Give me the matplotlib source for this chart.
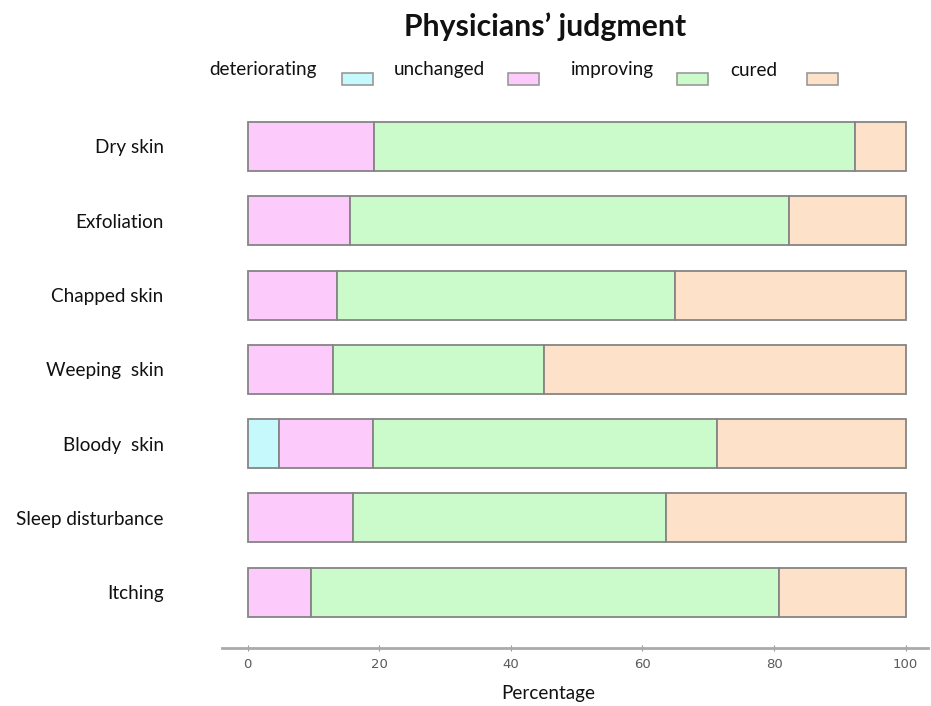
import matplotlib
matplotlib.use("Agg")
import matplotlib.pyplot as plt
from matplotlib.patches import Rectangle

categories = ["Dry skin", "Exfoliation", "Chapped skin", "Weeping  skin",
              "Bloody  skin", "Sleep disturbance", "Itching"]
series_names = ["deteriorating", "unchanged", "improving", "cured"]
deteriorating = [0, 0, 0, 0, 4.7, 0, 0]
unchanged = [19.2, 15.6, 13.6, 12.9, 14.4, 16.0, 9.6]
improving = [73.1, 66.6, 51.3, 32.1, 52.3, 47.6, 71.2]
cured = [7.7, 17.8, 35.1, 55.0, 28.6, 36.4, 19.2]
xticks = [0, 20, 40, 60, 80, 100]

colors = ["#C6F9FB", "#FCCAFB", "#CCFBCB", "#FDE1C8"]
edge = "#858585"

plt.rcParams['font.family'] = ['Lato', 'DejaVu Sans']

W, H = 931, 706
fig = plt.figure(figsize=(W / 100, H / 100), dpi=100)
ax = fig.add_axes([222 / W, (H - 648) / H, (928 - 222) / W, (648 - 110) / H])

values = [deteriorating, unchanged, improving, cured]
n = len(categories)
ypos = [n - 1 - i for i in range(n)]
left = [0.0] * n
for vals, col in zip(values, colors):
    for i in range(n):
        if vals[i] > 0:
            ax.barh(ypos[i], vals[i], left=left[i], height=0.66, color=col,
                    edgecolor=edge, linewidth=1.3)
        left[i] += vals[i]

ax.set_xlim(-3.9, 103.4)
ax.set_ylim(-0.75, n - 1 + 0.49)
ax.set_yticks(ypos)
ax.set_yticklabels(categories, fontsize=13.6, color="#111111")
for lab in ax.get_yticklabels():
    lab.set_ha("right")
    lab.set_va("center_baseline")
ax.tick_params(axis="y", length=0, pad=42)
ax.set_xticks(xticks)
ax.set_xticklabels([str(t) for t in xticks], fontsize=9.5,
                   color="#5a5a5a", family=['Liberation Sans Narrow', 'DejaVu Sans'])
ax.tick_params(axis="x", length=4, width=0.8, color="#999999", pad=5, direction="inout")
for s in ["top", "right", "left"]:
    ax.spines[s].set_visible(False)
ax.spines["bottom"].set_color("#AAAAAA")
ax.spines["bottom"].set_linewidth(2)

fig.text(548 / W, 1 - 693 / H, "Percentage", ha="center", va="center",
         fontsize=13.6, color="#111111")

fig.text(545 / W, 1 - 27 / H, "Physicians\u2019 judgment", ha="center", va="center",
         fontsize=21.7, fontweight="bold", color="#111111")

# legend: label first, then box
text_x = [209, 394, 571, 730]
box_x = [342, 508, 677, 807]
for name, col, tx, bx in zip(series_names, colors, text_x, box_x):
    fig.text(tx / W, 1 - 70 / H, name, ha="left", va="center", fontsize=13.6,
             color="#111111")
    fig.add_artist(Rectangle((bx / W, 1 - 85 / H), 31 / W, 12 / H,
                             transform=fig.transFigure, facecolor=col,
                             edgecolor="#999999", linewidth=1.2))

fig.savefig("out.png", dpi=100)
